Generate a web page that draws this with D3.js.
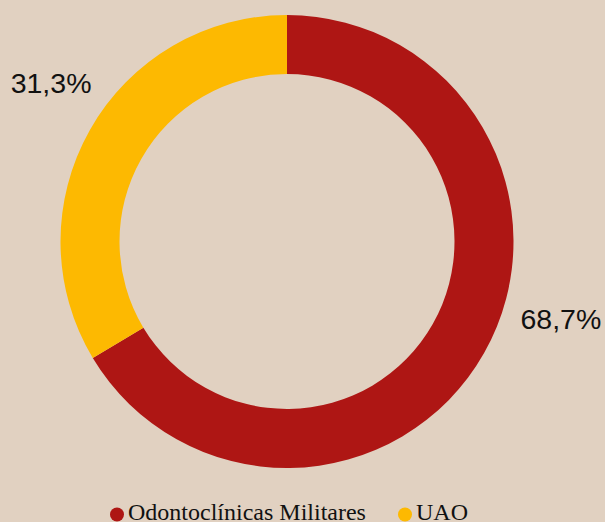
<!DOCTYPE html>
<html>
<head>
<meta charset="utf-8">
<script src="https://cdn.jsdelivr.net/npm/d3@7"></script>
<style>
  html, body { margin: 0; padding: 0; background: #E1D1C1; }
  svg { display: block; }
</style>
</head>
<body>
<svg id="chart" width="605" height="522"></svg>
<script>
// Data
const categories = ["Odontoclínicas Militares", "UAO"];
const values = [66.4, 33.6];
const valueLabels = ["68,7%", "31,3%"];
const colors = ["#AE1614", "#FDB901"];

const svg = d3.select("#chart");
const W = 605, H = 522;
svg.append("rect").attr("width", W).attr("height", H).attr("fill", "#E1D1C1");

const cx = 287, cy = 241.5;
const outerR = 226.5, innerR = 167.5;

const pie = d3.pie().sort(null).value(d => d)(values);
const arc = d3.arc().innerRadius(innerR).outerRadius(outerR);

const g = svg.append("g").attr("transform", `translate(${cx},${cy})`);
g.selectAll("path").data(pie).join("path")
  .attr("d", arc)
  .attr("fill", (d, i) => colors[i]);

// Label placement (angles in degrees, clockwise from top)
const labelAngles = [105.75, 304];
const labelR = 284.6;
g.selectAll("text.lbl").data(valueLabels).join("text")
  .attr("class", "lbl")
  .attr("x", (d, i) => d3.pointRadial(labelAngles[i] * Math.PI / 180, labelR)[0])
  .attr("y", (d, i) => d3.pointRadial(labelAngles[i] * Math.PI / 180, labelR)[1])
  .attr("dy", "0.36em")
  .attr("text-anchor", "middle")
  .attr("font-family", "'Liberation Sans', Arial, sans-serif")
  .attr("font-size", 28.5)
  .attr("fill", "#111")
  .text(d => d);

// Legend
const legendX = [117, 405];
const leg = svg.append("g");
categories.forEach((c, i) => {
  leg.append("circle").attr("cx", legendX[i]).attr("cy", 514.5).attr("r", 7).attr("fill", colors[i]);
  leg.append("text")
    .attr("x", legendX[i] + 11)
    .attr("y", 520)
    .attr("font-family", "'Liberation Serif', 'Times New Roman', serif")
    .attr("font-size", 24)
    .attr("fill", "#111")
    .text(c);
});
</script>
</body>
</html>
